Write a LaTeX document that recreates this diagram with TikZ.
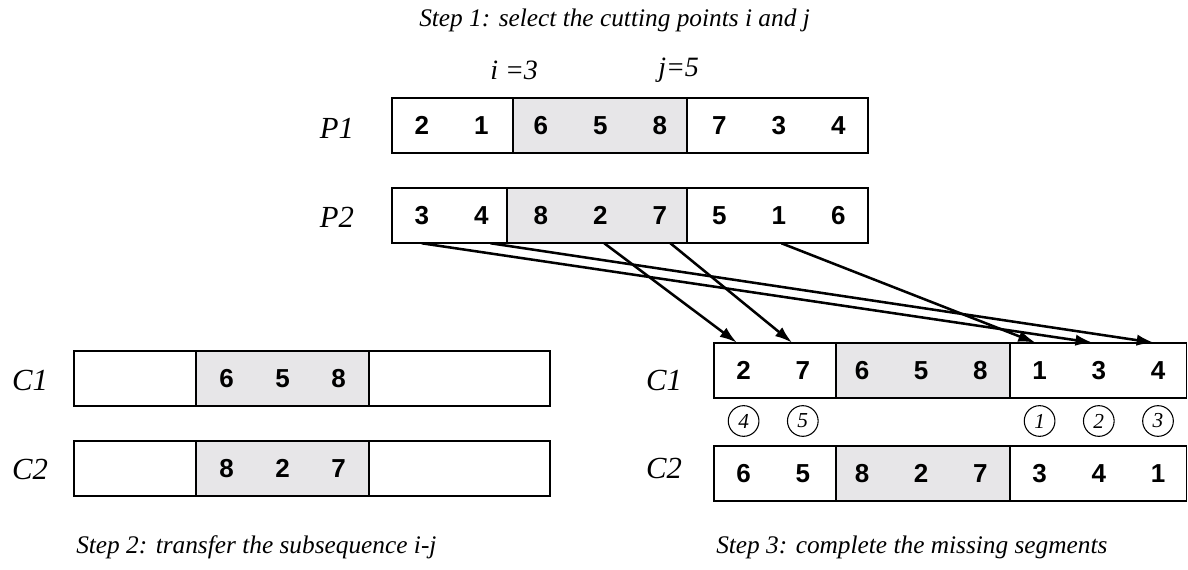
\documentclass[tikz,border=0pt]{standalone}
\usepackage{fontspec}
\setmainfont{Liberation Serif}
\setsansfont{Liberation Sans}
\usetikzlibrary{arrows.meta}
\definecolor{cutgray}{RGB}{231,230,232}
\tikzset{
  gene/.style={minimum width=44.6pt,minimum height=41.25pt,inner sep=0pt,font=\fontsize{19.5}{21}\selectfont\sffamily\bfseries},
  segbox/.style={draw,line width=1.3pt},
  cutbox/.style={segbox,fill=cutgray},
  rowlabel/.style={inner sep=0pt,font=\fontsize{23}{26}\selectfont\itshape},
  cutlabel/.style={anchor=west,inner sep=0pt,font=\fontsize{21}{24}\selectfont\itshape},
  steptext/.style={anchor=west,inner sep=0pt,font=\fontsize{19}{21}\selectfont\itshape},
  order/.style={circle,draw,line width=0.8pt,minimum size=23pt,inner sep=0pt,font=\fontsize{16}{18}\selectfont\itshape},
  move/.style={-{Latex[length=13pt,width=8.5pt]},line width=1.9pt}
}
\begin{document}
\begin{tikzpicture}[x=0.75pt,y=0.75pt,yscale=-1]
\useasboundingbox (0,0) rectangle (1188,570);

%Segments P1 and P2
\draw [cutbox] (513,98) rectangle (687,153);
\draw [segbox] (392,98) rectangle (868,153);
\draw [cutbox] (507,188) rectangle (687,243);
\draw [segbox] (392,188) rectangle (868,243);
%Segments C1 and C2 after step 2
\draw [cutbox] (196,351) rectangle (369,406);
\draw [segbox] (74,351) rectangle (550,406);
\draw [cutbox] (196,441) rectangle (369,496);
\draw [segbox] (74,441) rectangle (550,496);
%Segments C1 and C2 after step 3
\draw [cutbox] (836,343) rectangle (1010,398);
\draw [segbox] (714,343) rectangle (1186.5,398);
\draw [cutbox] (836,446) rectangle (1010,501);
\draw [segbox] (714,446) rectangle (1186.5,501);

% Genes
\foreach \v [count=\k] in {2,1,6,5,8,7,3,4}
  \node [gene] (p1-\k) at ({392+59.5*(\k-0.5)},125.5) {\v};
\foreach \v [count=\k] in {3,4,8,2,7,5,1,6}
  \node [gene] (p2-\k) at ({392+59.5*(\k-0.5)},215.5) {\v};
\foreach \v [count=\k from 3] in {6,5,8}
  \node [gene] (l1-\k) at ({282.5+56*(\k-4)},378.5) {\v};
\foreach \v [count=\k from 3] in {8,2,7}
  \node [gene] (l2-\k) at ({282.5+56*(\k-4)},468.5) {\v};
\foreach \v [count=\k] in {2,7,6,5,8,1,3,4}
  \node [gene] (r1-\k) at ({714+59.2*(\k-0.5)},370.5) {\v};
\foreach \v [count=\k] in {6,5,8,2,7,3,4,1}
  \node [gene] (r2-\k) at ({714+59.2*(\k-0.5)},473.5) {\v};

% Filling order
\foreach \o/\k in {4/1,5/2,1/6,2/7,3/8}
  \node [order] (o-\o) at ({714+59.2*(\k-0.5)},421) {\o};

%Arrows from P2 to C1
\foreach \s/\t/\a/\b in {4/1/3/-5,5/2/8/-8,7/6/2/-3,1/7/0/-4.5,2/8/7/-3}
  \draw [move] ([xshift=\a pt]p2-\s.south) -- ([xshift=\b pt]r1-\t.north);

% Text Node
\node [rowlabel] (lp1) at (337,128) {P1};
\node [rowlabel] (lp2) at (337,217) {P2};
\node [rowlabel] (lc1) at (30,380) {C1};
\node [rowlabel] (lc2) at (30,469) {C2};
\node [rowlabel] (rc1) at (664,380) {C1};
\node [rowlabel] (rc2) at (664,468) {C2};
% Text Node
\node [cutlabel] (cuti) at (490,70) {i =3};
\node [cutlabel] (cutj) at (658,70) {j=5};
\node [steptext] (step1) at (419,20) {Step 1: select the cutting points i and j};
\node [steptext] (step2) at (76,547) {Step 2: transfer the subsequence i-j};
\node [steptext] (step3) at (716,547) {Step 3: complete the missing segments};

\end{tikzpicture}
\end{document}
